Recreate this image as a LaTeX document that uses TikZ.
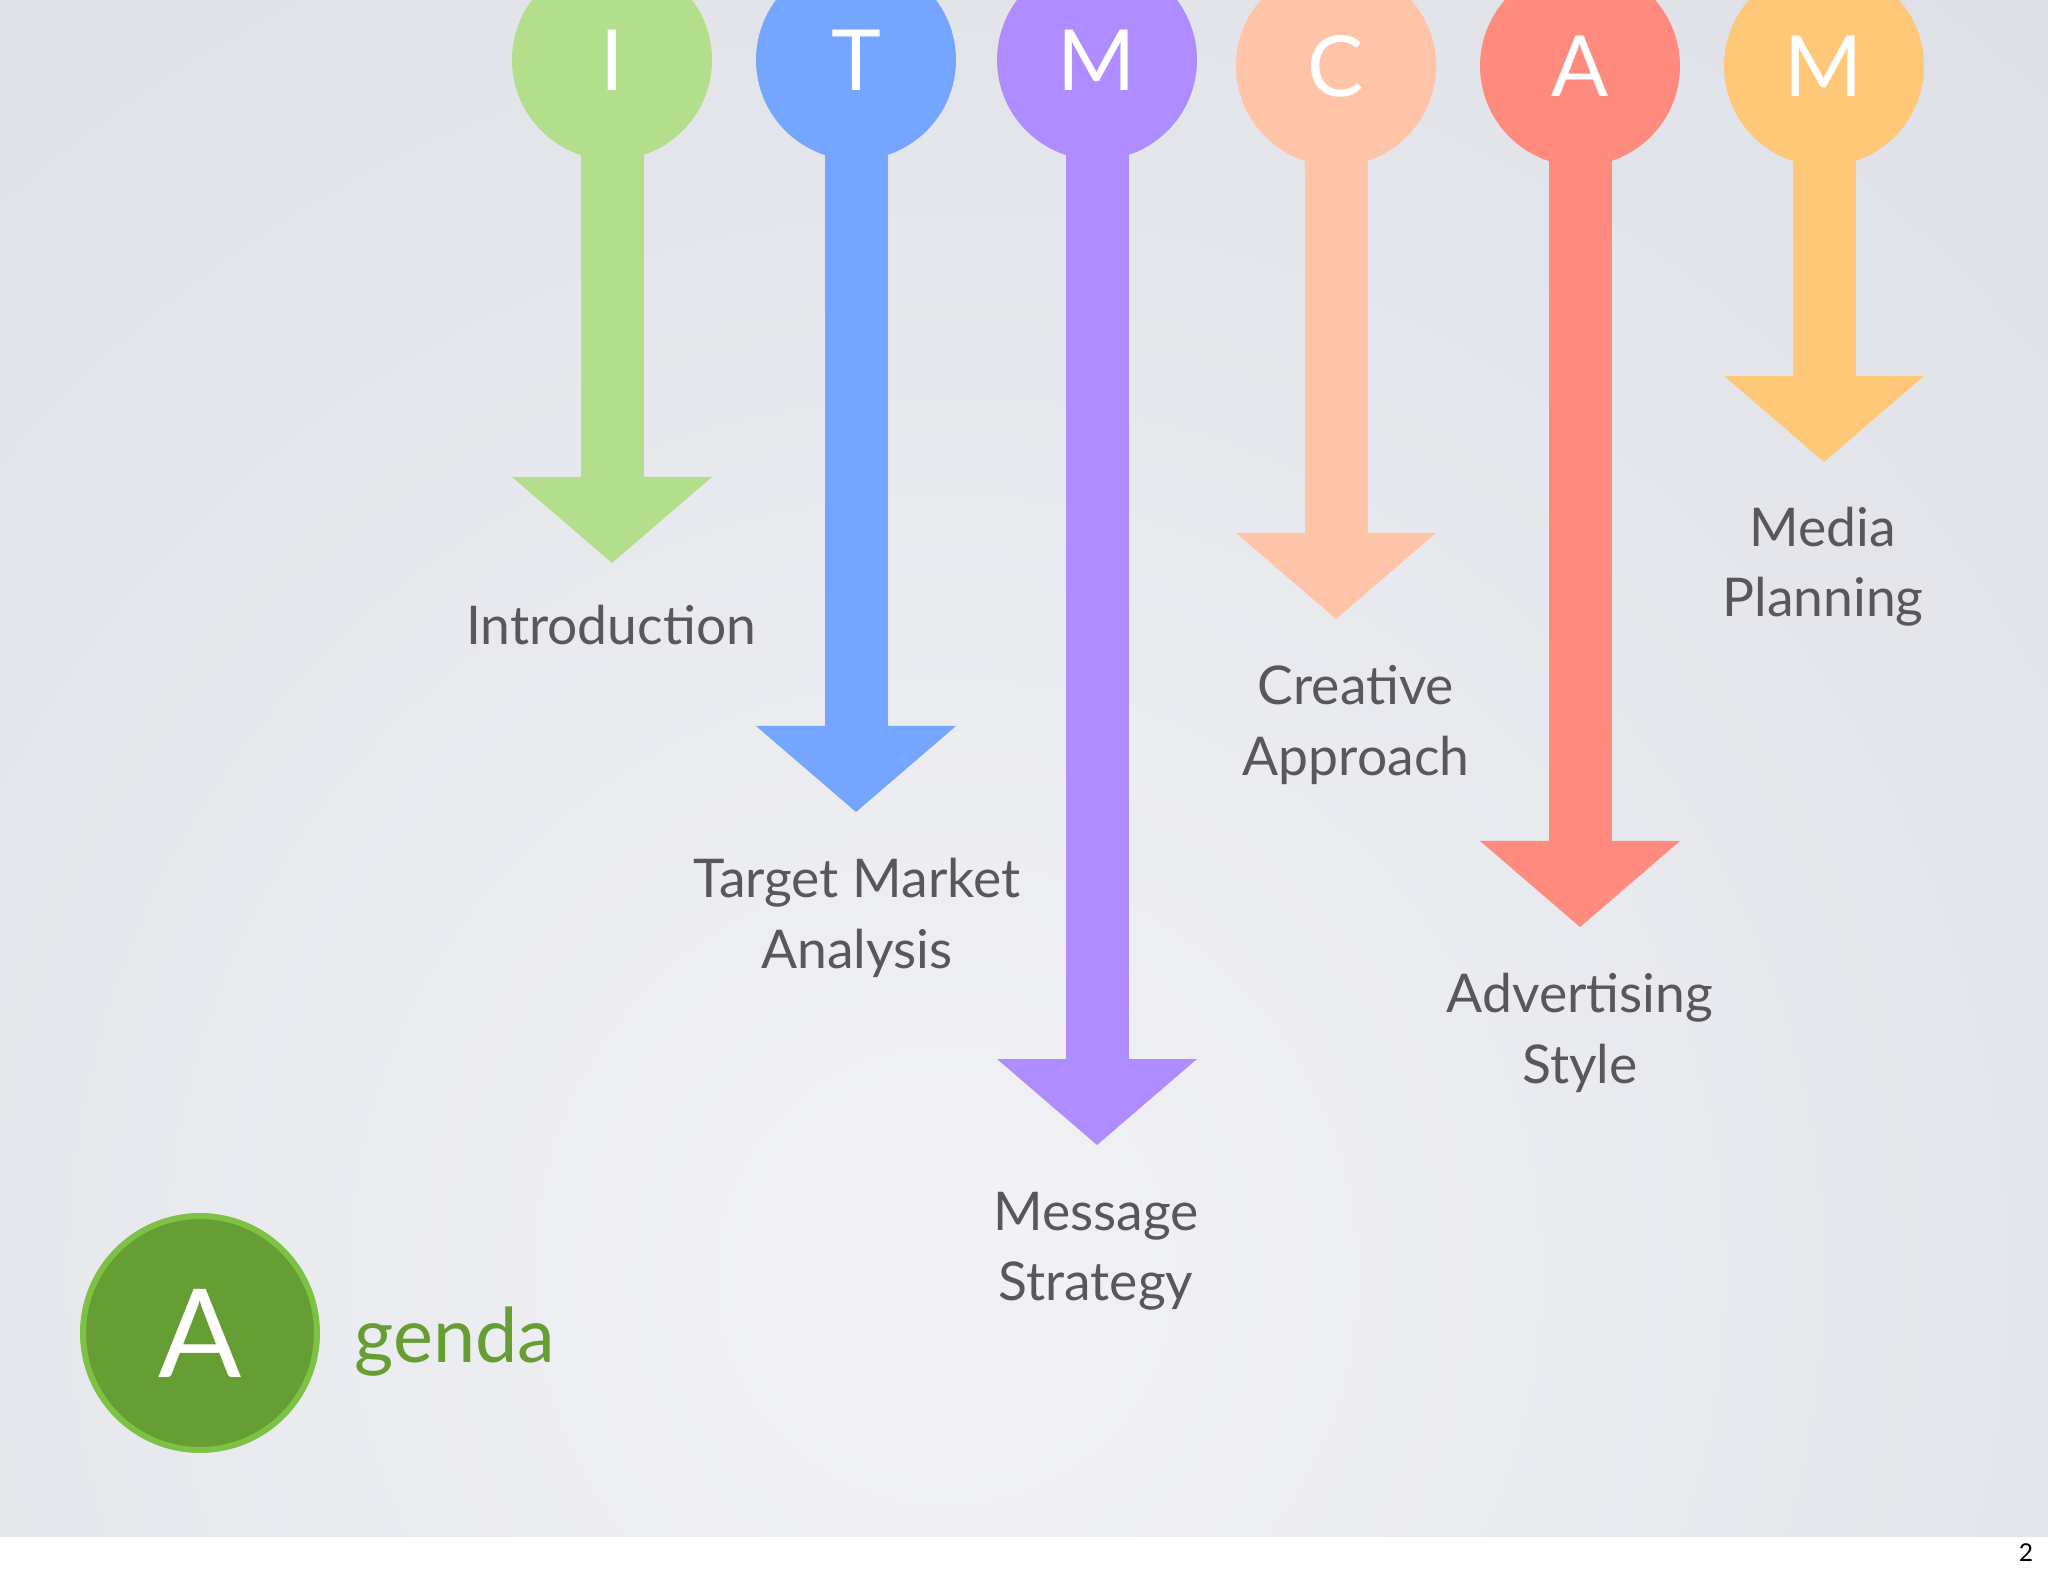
\documentclass[tikz,border=0pt]{standalone}
\usepackage{fontspec}
\setmainfont{Lato}
\usepackage{xcolor}
\usetikzlibrary{arrows.meta, positioning}

\definecolor{introgreen}{HTML}{B3DE8B}
\definecolor{targetblue}{HTML}{75A6FF}
\definecolor{msgpurple}{HTML}{AF8CFF}
\definecolor{creapeach}{HTML}{FFC4A8}
\definecolor{advsalmon}{HTML}{FF8B7E}
\definecolor{mediaorange}{HTML}{FFC778}
\definecolor{labelgray}{HTML}{58585C}
\definecolor{agendagreen}{HTML}{679E34}
\definecolor{agendarim}{HTML}{7DC244}
\definecolor{bglight}{HTML}{F2F2F5}
\definecolor{bgdark}{HTML}{C6CCD6}

\pgfdeclarelayer{back}
\pgfdeclarelayer{mid}
\pgfsetlayers{back,mid,main}

\begin{document}
\begin{tikzpicture}[
  x=0.1mm, y=-0.1mm,
  bulb/.style={circle, minimum size=20mm, inner sep=0pt, text=white, font=\fontsize{24}{24}\selectfont},
  shaft/.style={line width=6.3mm, line cap=butt, -{Triangle[width=20mm, length=8.6mm, line width=0pt]}},
  topic/.style={align=center, text=labelgray, font=\fontsize{15.2}{20}\selectfont},
  logo/.style={circle, minimum size=23.4mm, inner sep=0pt, fill=agendagreen, draw=agendarim, line width=0.6mm, text=white, font=\fontsize{35}{35}\selectfont},
]
\useasboundingbox (0,0) rectangle (2048,1576);

% Background
\begin{pgfonlayer}{back}
  \begin{scope}
    \clip (0,0) rectangle (2048,1537);
    \shade[inner color=bglight, outer color=bgdark] (-2555,-2225) rectangle (4445,4775);
  \end{scope}
  \fill[white] (0,1537) rectangle (2048,1576);
\end{pgfonlayer}

% Letter bulbs
\node[bulb, fill=introgreen] (bulbI) at (612,60) {I};
\node[bulb, fill=targetblue] (bulbT) at (856,60) {T};
\node[bulb, fill=msgpurple] (bulbM) at (1097,60) {M};
\node[bulb, fill=creapeach] (bulbC) at (1336,66) {C};
\node[bulb, fill=advsalmon] (bulbA) at (1580,66) {A};
\node[bulb, fill=mediaorange] (bulbMP) at (1824,66) {M};

% Arrow tips
\coordinate (tipI) at (612,563);
\coordinate (tipT) at (856,812);
\coordinate (tipM) at (1097,1145);
\coordinate (tipC) at (1336,619);
\coordinate (tipA) at (1580,927);
\coordinate (tipMP) at (1824,462);

% Shafts
\begin{pgfonlayer}{mid}
  \draw[shaft, introgreen] (bulbI.center) -- (tipI);
  \draw[shaft, targetblue] (bulbT.center) -- (tipT);
  \draw[shaft, msgpurple] (bulbM.center) -- (tipM);
  \draw[shaft, creapeach] (bulbC.center) -- (tipC);
  \draw[shaft, advsalmon] (bulbA.center) -- (tipA);
  \draw[shaft, mediaorange] (bulbMP.center) -- (tipMP);
\end{pgfonlayer}

% Topic labels
\node[topic] (intro) at (611,625) {Introduction};
\node[topic] (target) at (857,918) {Target Market\\Analysis};
\node[topic] (message) at (1096,1251) {Message\\Strategy};
\node[topic] (creative) at (1356,725) {Creative\\Approach};
\node[topic] (advert) at (1580,1033) {Advertising\\Style};
\node[topic] (media) at (1823,567) {Media\\Planning};

% Agenda logo
\node[logo] (agendaA) at (200,1333) {A};
\node[right=2.2mm of agendaA, yshift=-0.9mm, text=agendagreen, font=\fontsize{21.5}{24}\selectfont] (genda) {genda};

% Page number
\node[font=\fontsize{7}{8}\selectfont] (pagenum) at (2026,1553) {2};
\end{tikzpicture}
\end{document}
